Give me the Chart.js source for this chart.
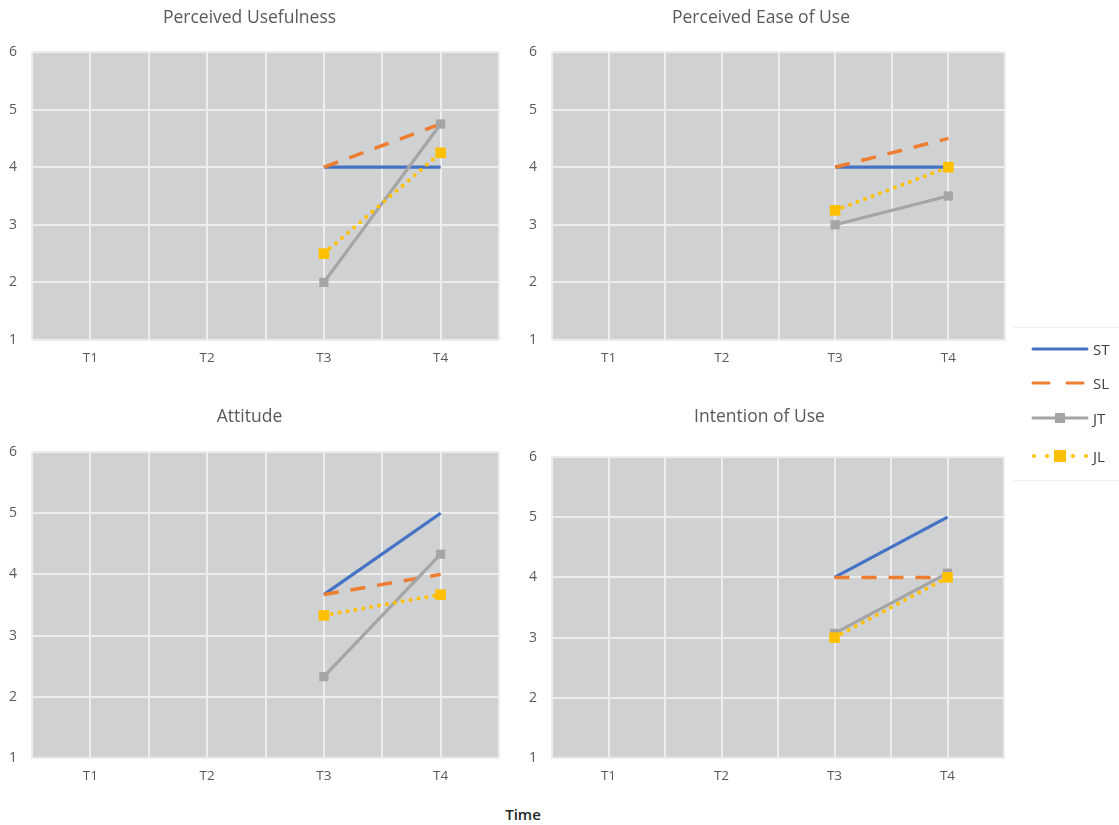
<!DOCTYPE html>
<html>
<head>
<meta charset="utf-8">
<script src="https://cdn.jsdelivr.net/npm/chart.js@4.4.0/dist/chart.umd.min.js"></script>
<style>
  body { margin: 0; background: #fff; font-family: "Open Sans", sans-serif; }
  #wrap { position: relative; width: 1119px; height: 825px; overflow: hidden; }
  canvas { position: absolute; }
  #legend { position: absolute; left: 1013px; top: 327px; width: 110px; height: 152px;
            border-top: 1px solid #f0f0f0; border-bottom: 1px solid #f0f0f0; }
  .item { position: absolute; left: 18px; height: 20px; width: 90px; }
  .item svg { position: absolute; left: 0; top: 0; }
  .item span { position: absolute; left: 62px; top: 0; font-size: 15px; line-height: 20px; color: #404040; }
  #time { position: absolute; left: 493px; top: 804px; width: 60px; text-align: center;
          font-size: 15px; font-weight: 600; color: #262626; }
</style>
</head>
<body>
<div id="wrap">
  <canvas id="c1" width="510" height="380" style="left:0;top:0"></canvas>
  <canvas id="c2" width="500" height="380" style="left:515px;top:0"></canvas>
  <canvas id="c3" width="510" height="400" style="left:0;top:400px"></canvas>
  <canvas id="c4" width="500" height="400" style="left:515px;top:400px"></canvas>
  <div id="legend">
    <div class="item" style="top:11px">
      <svg width="60" height="20"><line x1="2" y1="10" x2="56" y2="10" stroke="#4472c4" stroke-width="3" stroke-linecap="round"/></svg>
      <span>ST</span>
    </div>
    <div class="item" style="top:45px">
      <svg width="60" height="20"><line x1="2" y1="10" x2="56" y2="10" stroke="#ed7d31" stroke-width="3" stroke-dasharray="16 18" stroke-linecap="round"/></svg>
      <span>SL</span>
    </div>
    <div class="item" style="top:80px">
      <svg width="60" height="20"><line x1="2" y1="10" x2="56" y2="10" stroke="#a5a5a5" stroke-width="3" stroke-linecap="round"/><rect x="24" y="5" width="10" height="10" fill="#a5a5a5"/></svg>
      <span>JT</span>
    </div>
    <div class="item" style="top:118px">
      <svg width="60" height="20"><line x1="3" y1="10" x2="56" y2="10" stroke="#ffc000" stroke-width="4" stroke-dasharray="0 13" stroke-linecap="round"/><rect x="23" y="4" width="12" height="12" fill="#ffc000"/></svg>
      <span>JL</span>
    </div>
  </div>
  <div id="time">Time</div>
</div>
<script>
// categories along the time axis
const times = ['T1', 'T2', 'T3', 'T4'];
const seriesNames = ['ST', 'SL', 'JT', 'JL'];

// Perceived Usefulness
const puST = [null, null, 4, 4];
const puSL = [null, null, 4, 4.75];
const puJT = [null, null, 2, 4.75];
const puJL = [null, null, 2.5, 4.25];

// Perceived Ease of Use
const peST = [null, null, 4, 4];
const peSL = [null, null, 4, 4.5];
const peJT = [null, null, 3, 3.5];
const peJL = [null, null, 3.25, 4];

// Attitude
const atST = [null, null, 3.67, 5];
const atSL = [null, null, 3.67, 4];
const atJT = [null, null, 2.33, 4.33];
const atJL = [null, null, 3.33, 3.67];

// Intention of Use
const iuST = [null, null, 4, 5];
const iuSL = [null, null, 4, 4];
const iuJT = [null, null, 3.07, 4.07];
const iuJL = [null, null, 3, 4];

const yTicks = [1, 2, 3, 4, 5, 6];

const styles = {
  ST: { borderColor: '#4472c4', borderWidth: 3.2, pointRadius: 0, order: 3 },
  SL: { borderColor: '#ed7d31', borderWidth: 3.5, borderDash: [15, 12], pointRadius: 0, order: 2 },
  JT: { borderColor: '#a5a5a5', backgroundColor: '#a5a5a5', borderWidth: 3.2, pointStyle: 'rect', pointRadius: 6.5, pointBorderWidth: 0, order: 1 },
  JL: { borderColor: '#ffc000', backgroundColor: '#ffc000', borderWidth: 4, borderDash: [0, 8], borderCapStyle: 'round', pointStyle: 'rect', pointRadius: 7.5, pointBorderWidth: 0, order: 0 }
};

const plotBg = {
  id: 'plotBg',
  beforeDraw(chart) {
    const { ctx, chartArea: a } = chart;
    ctx.save();
    ctx.fillStyle = '#d0d1d2';
    ctx.fillRect(a.left, a.top, a.width, a.height);
    ctx.restore();
  }
};

function toPoints(vals) {
  return vals.map((v, i) => ({ x: i + 1, y: v })).filter(p => p.y !== null);
}

function makeChart(id, title, series, g) {
  const datasets = seriesNames.map((name, k) => Object.assign({ label: name, data: toPoints(series[k]), fill: false, tension: 0 }, styles[name]));
  new Chart(document.getElementById(id), {
    type: 'line',
    data: { datasets },
    plugins: [plotBg],
    options: {
      responsive: false,
      animation: false,
      layout: { padding: { left: 0, right: g.right, top: 0, bottom: 0 } },
      plugins: {
        legend: { display: false },
        tooltip: { enabled: false },
        title: {
          display: true, text: title, color: '#595959',
          font: { family: 'Open Sans', size: 17.5, weight: 'normal' },
          padding: { top: g.titleTop, bottom: g.titleBottom }
        }
      },
      scales: {
        x: {
          type: 'linear', min: 0.5, max: 4.5,
          afterBuildTicks: (s) => { s.ticks = [0.5, 1, 1.5, 2, 2.5, 3, 3.5, 4, 4.5].map(v => ({ value: v })); },
          afterFit: (s) => { s.height = g.xh; },
          ticks: {
            autoSkip: false, maxRotation: 0, padding: 10, color: '#595959',
            font: { family: 'Open Sans', size: 13.5 },
            callback: (v) => Number.isInteger(v) ? times[v - 1] : ''
          },
          grid: { color: '#ededed', lineWidth: 2, drawTicks: false },
          border: { color: '#ededed', width: 2 }
        },
        y: {
          min: 1, max: 6,
          afterBuildTicks: (s) => { s.ticks = yTicks.map(v => ({ value: v })); },
          afterFit: (s) => { s.width = g.yw; },
          ticks: { padding: 15, color: '#595959', font: { family: 'Open Sans', size: 14 } },
          grid: { color: '#ededed', lineWidth: 2, drawTicks: false },
          border: { color: '#ededed', width: 2 }
        }
      }
    }
  });
}

makeChart('c1', 'Perceived Usefulness', [puST, puSL, puJT, puJL], { right: 11, yw: 32, xh: 40, titleTop: 8, titleBottom: 23 });
makeChart('c2', 'Perceived Ease of Use', [peST, peSL, peJT, peJL], { right: 8, yw: 37, xh: 40, titleTop: 8, titleBottom: 23 });
makeChart('c3', 'Attitude', [atST, atSL, atJT, atJL], { right: 11, yw: 32, xh: 42, titleTop: 7, titleBottom: 24 });
makeChart('c4', 'Intention of Use', [iuST, iuSL, iuJT, iuJL], { right: 11, yw: 37, xh: 42, titleTop: 7, titleBottom: 29 });
</script>
</body>
</html>
